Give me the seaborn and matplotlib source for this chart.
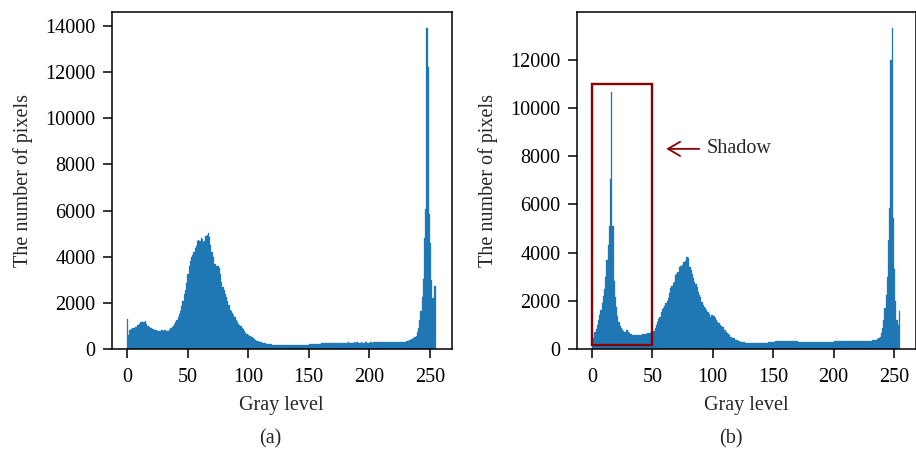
import numpy as np
import matplotlib
matplotlib.use("Agg")
import matplotlib.pyplot as plt
import matplotlib.patches as mpatches
import seaborn as sns

# gray levels 0..255
gray_levels = list(range(256))

# histogram (a): original image
counts_a = [
    1300, 620, 820, 870, 900, 920, 930, 960, 1040, 1050, 1080, 1150, 1170, 1180, 1170, 1210,
    1090, 990, 970, 900, 890, 870, 840, 830, 810, 800, 790, 780, 820, 810, 790, 830,
    800, 780, 790, 820, 920, 960, 1010, 1100, 1180, 1260, 1370, 1520, 1660, 1850, 2090, 2400,
    2560, 2880, 3250, 3600, 3800, 3970, 4070, 4200, 4380, 4470, 4690, 4720, 4700, 4790, 4780, 4650,
    4700, 4880, 4950, 5010, 4850, 4500, 4210, 4000, 3700, 3670, 3610, 3600, 3520, 3230, 2920, 2690,
    2540, 2380, 2270, 2080, 1900, 1690, 1650, 1545, 1470, 1400, 1255, 1160, 1100, 1040, 995, 920,
    860, 780, 700, 660, 610, 580, 560, 530, 465, 420, 390, 360, 345, 320, 300, 290,
    270, 250, 245, 230, 215, 220, 210, 200, 190, 180, 175, 185, 180, 170, 175, 180,
    185, 175, 180, 170, 180, 185, 175, 180, 190, 180, 175, 185, 180, 175, 180, 185,
    190, 180, 175, 185, 180, 190, 195, 210, 215, 205, 220, 215, 210, 220, 225, 215,
    230, 245, 250, 260, 255, 250, 265, 260, 270, 255, 265, 270, 260, 275, 265, 270,
    280, 270, 265, 275, 270, 280, 275, 285, 270, 280, 275, 270, 285, 280, 290, 275,
    280, 270, 285, 275, 280, 290, 285, 280, 275, 285, 290, 280, 285, 290, 285, 295,
    290, 300, 295, 290, 300, 305, 295, 300, 310, 300, 305, 310, 305, 315, 310, 320,
    315, 320, 317, 320, 315, 325, 320, 346, 350, 346, 390, 439, 440, 462, 520, 577,
    750, 922, 1255, 1645, 2265, 3030, 4820, 6060, 13910, 12220, 5845, 4600, 3000, 2200, 2740, 2740,
]

# histogram (b): shadow image
counts_b = [
    580, 440, 690, 830, 1000, 1200, 1400, 1600, 1900, 2200, 2500, 3000, 3700, 4300, 5100, 7050,
    10640, 5100, 2800, 2150, 1750, 1350, 1100, 950, 860, 790, 730, 700, 780, 800, 720, 660,
    610, 590, 580, 590, 570, 580, 590, 585, 600, 595, 610, 620, 615, 630, 650, 660,
    680, 700, 720, 740, 860, 1000, 1135, 1250, 1342, 1550, 1650, 1700, 1785, 1895, 2000, 2102,
    2310, 2517, 2600, 2725, 2795, 3070, 3100, 3210, 3417, 3440, 3460, 3485, 3625, 3650, 3830, 3830,
    3760, 3400, 3280, 3100, 2932, 2795, 2700, 2587, 2380, 2250, 2172, 1965, 1826, 1760, 1688, 1618,
    1550, 1450, 1342, 1410, 1390, 1370, 1273, 1203, 1135, 1060, 997, 955, 920, 900, 790, 720,
    680, 623, 600, 480, 470, 450, 440, 380, 370, 350, 330, 300, 290, 280, 270, 263,
    265, 260, 263, 255, 240, 235, 230, 240, 235, 230, 235, 240, 230, 235, 240, 235,
    245, 260, 277, 270, 280, 275, 285, 300, 320, 330, 335, 325, 330, 340, 335, 330,
    335, 340, 330, 335, 325, 330, 335, 340, 330, 325, 320, 310, 305, 300, 310, 305,
    300, 305, 310, 300, 305, 295, 300, 305, 310, 300, 305, 310, 300, 305, 300, 310,
    305, 300, 310, 305, 300, 305, 310, 305, 300, 320, 330, 335, 330, 325, 335, 330,
    335, 330, 325, 335, 330, 340, 335, 330, 325, 335, 330, 340, 335, 330, 335, 340,
    335, 330, 340, 335, 340, 345, 340, 345, 350, 360, 365, 373, 373, 400, 443, 512,
    650, 858, 1203, 1688, 2241, 3002, 4524, 5838, 11990, 13310, 5420, 3300, 2000, 1200, 1000, 1580,
]

panel_captions = ["(a)", "(b)"]
x_label = "Gray level"
y_label = "The number of pixels"
annot_text = "Shadow"

sns.set_style("ticks")
plt.rcParams["font.family"] = ["Liberation Serif", "DejaVu Serif"]
plt.rcParams["axes.edgecolor"] = "black"
plt.rcParams["axes.linewidth"] = 1.1
plt.rcParams["xtick.color"] = "black"
plt.rcParams["ytick.color"] = "black"

bar_color = "#1f77b4"
fs = 14.5

fig = plt.figure(figsize=(9.16, 4.49), dpi=100)
ax1 = fig.add_axes([111.5 / 916, 100 / 449, 340 / 916, 337 / 449])
ax2 = fig.add_axes([576.5 / 916, 100 / 449, 339 / 916, 337 / 449])

for ax, counts in ((ax1, counts_a), (ax2, counts_b)):
    sns.histplot(x=gray_levels, weights=counts, bins=256, binrange=(0, 255),
                 color=bar_color, alpha=1, edgecolor=bar_color, linewidth=0.2, ax=ax)
    ax.set_xlabel(x_label, fontsize=fs, labelpad=7)
    ax.set_ylabel(y_label, fontsize=fs, labelpad=9)
    ax.set_xticks([0, 50, 100, 150, 200, 250])
    ax.tick_params(axis="both", labelsize=fs, length=6.5, width=1.1,
                   direction="out", colors="black")
    ax.tick_params(axis="x", pad=7)
    ax.tick_params(axis="y", pad=5)
    for sp in ax.spines.values():
        sp.set_visible(True)
        sp.set_color("black")

# shadow region annotation on (b)
rect = mpatches.Rectangle((0, 150), 50, 10850, fill=False, edgecolor="#8B0000",
                          linewidth=1.7, zorder=5)
ax2.add_patch(rect)
ax2.annotate(annot_text, xy=(61.5, 8300), xytext=(95, 8300), fontsize=fs,
             va="center", ha="left",
             arrowprops=dict(arrowstyle="->,head_length=0.6,head_width=0.35",
                             color="#8B0000", lw=1.3, shrinkA=3, shrinkB=0))

fig.text(270 / 916, 1 - 439 / 449, panel_captions[0], ha="center", va="center", fontsize=fs)
fig.text(731 / 916, 1 - 439 / 449, panel_captions[1], ha="center", va="center", fontsize=fs)

fig.savefig("out.png", dpi=100)
